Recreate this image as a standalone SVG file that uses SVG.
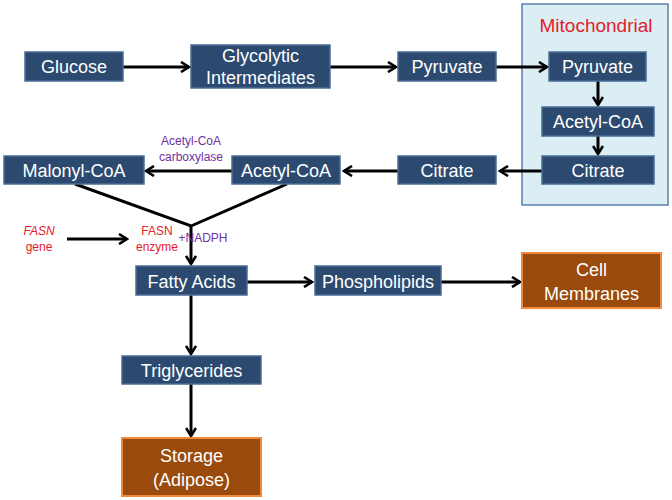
<svg xmlns="http://www.w3.org/2000/svg" width="672" height="500" viewBox="0 0 672 500">
<defs>
<style>
.b{fill:#2C4A70;stroke:#4A6D97;stroke-width:1.5}
.o{fill:#9A4A0C;stroke:#F08A3A;stroke-width:2}
.t{fill:#fff;font-family:"Liberation Sans",Arial,sans-serif;font-size:18px;text-anchor:middle}
.c{stroke:#000;stroke-width:3;fill:none}
.s{font-family:"Liberation Sans",Arial,sans-serif;font-size:12px;text-anchor:middle}
</style>
<marker id="a" viewBox="0 0 12 12" refX="10" refY="6" markerWidth="12" markerHeight="12" markerUnits="userSpaceOnUse" orient="auto">
<path d="M2,1 L10,6 L2,11" fill="none" stroke="#000" stroke-width="2.6"/>
</marker>
</defs>
<rect width="672" height="500" fill="#fff"/>
<g id="mito">
<rect x="522" y="4" width="146" height="201" fill="#DBEEF4" stroke="#5A80AA" stroke-width="1.5"/>
<text x="596" y="32" font-family="'Liberation Sans',Arial,sans-serif" font-size="19" fill="#E3202B" text-anchor="middle">Mitochondrial</text>
</g>
<g id="connectors">
<line class="c" x1="123" y1="67" x2="189" y2="67" marker-end="url(#a)"/>
<line class="c" x1="330" y1="67" x2="396" y2="67" marker-end="url(#a)"/>
<line class="c" x1="496" y1="67" x2="547" y2="67" marker-end="url(#a)"/>
<line class="c" x1="598" y1="81" x2="598" y2="105" marker-end="url(#a)"/>
<line class="c" x1="598" y1="136" x2="598" y2="154" marker-end="url(#a)"/>
<line class="c" x1="542" y1="171" x2="500" y2="171" marker-end="url(#a)"/>
<line class="c" x1="398" y1="171" x2="344" y2="171" marker-end="url(#a)"/>
<line class="c" x1="232" y1="171" x2="146" y2="171" marker-end="url(#a)"/>
<polyline class="c" points="75,184 191,226 287,184"/>
<line class="c" x1="191" y1="226" x2="191" y2="264" marker-end="url(#a)"/>
<line class="c" x1="67" y1="239" x2="127" y2="239" marker-end="url(#a)"/>
<line class="c" x1="247" y1="282" x2="312" y2="282" marker-end="url(#a)"/>
<line class="c" x1="441" y1="282" x2="520" y2="282" marker-end="url(#a)"/>
<line class="c" x1="191" y1="295" x2="191" y2="354" marker-end="url(#a)"/>
<line class="c" x1="191" y1="384" x2="191" y2="436" marker-end="url(#a)"/>
</g>
<g id="glucose"><rect class="b" x="25" y="52" width="98" height="29"/><text class="t" x="74" y="73">Glucose</text></g>
<g id="glycolytic"><rect class="b" x="191" y="45" width="139" height="43"/><text class="t" x="260.5" y="62">Glycolytic</text><text class="t" x="260.5" y="84">Intermediates</text></g>
<g id="pyruvate1"><rect class="b" x="398" y="52" width="98" height="29"/><text class="t" x="447" y="73">Pyruvate</text></g>
<g id="pyruvate2"><rect class="b" x="549" y="52" width="97" height="29"/><text class="t" x="597.5" y="73">Pyruvate</text></g>
<g id="acetylcoa-mito"><rect class="b" x="542" y="107" width="112" height="29"/><text class="t" x="598" y="128">Acetyl-CoA</text></g>
<g id="citrate-mito"><rect class="b" x="542" y="156" width="112" height="28"/><text class="t" x="598" y="177">Citrate</text></g>
<g id="citrate"><rect class="b" x="398" y="156" width="98" height="28"/><text class="t" x="447" y="177">Citrate</text></g>
<g id="acetylcoa"><rect class="b" x="232" y="156" width="108" height="28"/><text class="t" x="286" y="177">Acetyl-CoA</text></g>
<g id="malonylcoa"><rect class="b" x="4" y="156" width="140" height="28"/><text class="t" x="74" y="177">Malonyl-CoA</text></g>
<g id="acc-label"><text class="s" x="191" y="145" fill="#7030A0">Acetyl-CoA</text><text class="s" x="191" y="161" fill="#7030A0">carboxylase</text></g>
<g id="fasn-gene"><text class="s" x="39" y="235" fill="#E3202B" font-style="italic">FASN</text><text class="s" x="39" y="251" fill="#E3202B">gene</text></g>
<g id="fasn-enzyme"><text class="s" x="157" y="235" fill="#E3202B">FASN</text><text class="s" x="157" y="251" fill="#E3202B">enzyme</text></g>
<g id="nadph"><text class="s" x="203" y="242" fill="#7030A0" text-anchor="start">+NADPH</text></g>
<g id="fattyacids"><rect class="b" x="136" y="266" width="111" height="29"/><text class="t" x="191.5" y="288">Fatty Acids</text></g>
<g id="phospholipids"><rect class="b" x="315" y="266" width="126" height="29"/><text class="t" x="378" y="288">Phospholipids</text></g>
<g id="cellmembranes"><rect class="o" x="522" y="253" width="139" height="55"/><text class="t" x="591.5" y="276">Cell</text><text class="t" x="591.5" y="300">Membranes</text></g>
<g id="triglycerides"><rect class="b" x="122" y="356" width="139" height="28"/><text class="t" x="191.5" y="377">Triglycerides</text></g>
<g id="storage"><rect class="o" x="122" y="438" width="139" height="58"/><text class="t" x="191.5" y="462">Storage</text><text class="t" x="191.5" y="486">(Adipose)</text></g>
</svg>
